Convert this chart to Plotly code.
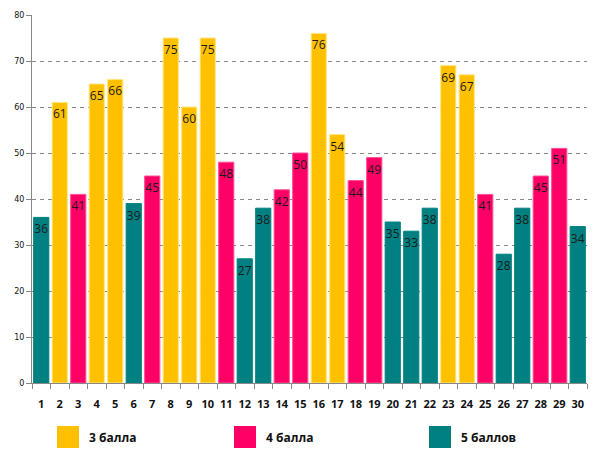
import plotly.graph_objects as go

categories = [str(i) for i in range(1, 31)]
values = [36, 61, 41, 65, 66, 39, 45, 75, 60, 75, 48, 27, 38, 42, 50,
          76, 54, 44, 49, 35, 33, 38, 69, 67, 41, 28, 38, 45, 51, 34]
grades = ["5", "3", "4", "3", "3", "5", "4", "3", "3", "3", "4", "5", "5", "4", "4",
          "3", "3", "4", "4", "5", "5", "5", "3", "3", "4", "5", "5", "4", "4", "5"]
series_names = {"3": "3 балла", "4": "4 балла", "5": "5 баллов"}
colors = {"3": "#FFC000", "4": "#FF0066", "5": "#008080"}
borders = {"3": "#FFE680", "4": "#FF4D94", "5": "#008080"}

fig = go.Figure()
for g in ["3", "4", "5"]:
    xs = [c for c, gg in zip(categories, grades) if gg == g]
    ys = [v for v, gg in zip(values, grades) if gg == g]
    fig.add_trace(go.Bar(
        x=xs, y=ys, name=series_names[g],
        marker=dict(color=colors[g], line=dict(color=borders[g], width=1)),
        text=[str(v) for v in ys], textposition="inside", insidetextanchor="end",
        textangle=0, constraintext="none",
        textfont=dict(family="Open Sans, DejaVu Sans", size=12, color="#1a1a1a"),
        showlegend=False,
    ))

fig.update_layout(
    width=597, height=458,
    margin=dict(l=32, r=10, t=15, b=75),
    paper_bgcolor="white", plot_bgcolor="white",
    barmode="overlay", bargap=0.18,
    xaxis=dict(categoryorder="array", categoryarray=categories,
               showline=True, linecolor="#888", linewidth=1,
               ticks="outside", tickson="boundaries", ticklen=5, tickcolor="#888",
               tickangle=0, ticklabelstandoff=11,
               tickfont=dict(family="Open Sans, DejaVu Sans", size=11, color="#111",
                             weight="bold"),
               showgrid=False, range=[-0.5, 29.5]),
    yaxis=dict(range=[0, 80], dtick=10, showline=True, linecolor="#888", linewidth=1,
               ticks="outside", ticklen=5, tickcolor="#888",
               tickfont=dict(family="DejaVu Sans", size=8, color="#111"),
               showgrid=True, gridcolor="#888", griddash="4px,4px", gridwidth=1,
               zeroline=False),
    font=dict(family="Open Sans, DejaVu Sans"),
)

# legend drawn as shapes + labels
for (g, lx) in zip(["3", "4", "5"], [57, 234, 429]):
    fig.add_shape(type="rect", xref="paper", yref="paper",
                  x0=(lx - 32) / 555, x1=(lx + 22 - 32) / 555,
                  y0=-(448 - 383) / 368, y1=-(426 - 383) / 368,
                  fillcolor=colors[g], line=dict(width=0))
    fig.add_annotation(xref="paper", yref="paper", x=(lx + 30 - 32) / 555,
                       y=-(437 - 383) / 368, text="<b>" + series_names[g] + "</b>",
                       showarrow=False, xanchor="left", yanchor="middle",
                       font=dict(family="Open Sans, DejaVu Sans", size=12, color="#111"))

fig.write_html("out.html")
